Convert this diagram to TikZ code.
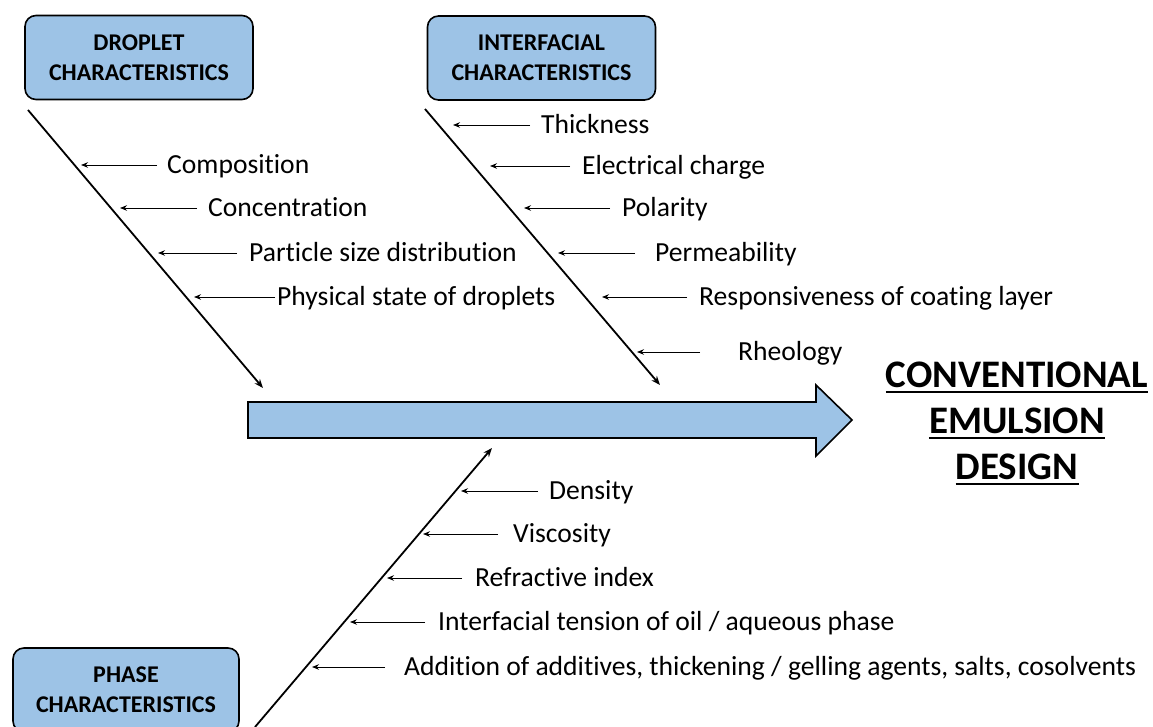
\documentclass[tikz,border=0pt]{standalone}
\usepackage{fontspec}
\setmainfont{Carlito}[Ligatures=NoCommon]
\usetikzlibrary{arrows.meta}
\definecolor{boxblue}{RGB}{157,195,230}
\begin{document}
\begin{tikzpicture}[x=1pt,y=-1pt,
  catbox/.style={draw=black, line width=1.6pt, fill=boxblue, rounded corners=11pt,
    font=\fontsize{24}{30}\selectfont\bfseries, align=center,
    minimum width=228pt, minimum height=84pt, inner sep=0pt},
  rib/.style={line width=1.8pt, -{Stealth[length=9pt,width=7pt]}},
  br/.style={line width=0.9pt, -{Stealth[length=7pt,width=5.5pt]}},
  lab/.style={anchor=west, inner sep=0pt, font=\fontsize{27.6}{30}\selectfont,
    text height=17pt, text depth=0pt},
  ttl/.style={anchor=base, inner sep=0pt, font=\fontsize{39}{44}\selectfont\bfseries},
  ul/.style={line width=2.6pt}
]
\useasboundingbox (0,0) rectangle (1153,727);

% category boxes
\node[catbox] (drop) at (139,57.5) {DROPLET\\CHARACTERISTICS};
\node[catbox] (inter) at (541.5,58) {INTERFACIAL\\CHARACTERISTICS};
\node[catbox, minimum width=226pt] (phase) at (126,690) {PHASE\\CHARACTERISTICS};

% main arrow
\draw[line width=1.6pt, fill=boxblue, line join=miter]
  (248,402) -- (816,402) -- (816,385) -- (852,420) -- (816,456) -- (816,438) -- (248,438) -- cycle;

% ribs
\coordinate (d0) at (28,110);  \coordinate (d1) at (263,388);
\coordinate (i0) at (425,109); \coordinate (i1) at (660,385);
\coordinate (p0) at (255,727); \coordinate (p1) at (492,448);
\draw[rib] (d0) -- (d1);
\draw[rib] (i0) -- (i1);
\draw[rib] (p0) -- (p1);

% droplet branches
\node[lab] (dl1) at (167,165) {Composition};
\node[lab] (dl2) at (208,208) {Concentration};
\node[lab] (dl3) at (249,253) {Particle size distribution};
\node[lab] (dl4) at (277,297) {Physical state of droplets};
\coordinate (dt1) at (81,165);
\coordinate (dt2) at (120,208);
\coordinate (dt3) at (158,253);
\coordinate (dt4) at (194,297);
\draw[br, shorten <=10pt] (dl1.west) -- (dt1);
\draw[br, shorten <=11pt] (dl2.west) -- (dt2);
\draw[br, shorten <=12pt] (dl3.west) -- (dt3);
\draw[br, shorten <=2pt] (dl4.west) -- (dt4);

% interfacial branches
\node[lab] (il1) at (541,125) {Thickness};
\node[lab] (il2) at (582,166) {Electrical charge};
\node[lab] (il3) at (622,208) {Polarity};
\node[lab] (il4) at (655,253) {Permeability};
\node[lab] (il5) at (699,297) {Responsiveness of coating layer};
\node[lab] (il6) at (738,352) {Rheology};
\coordinate (it1) at (453,125);
\coordinate (it2) at (490,166);
\coordinate (it3) at (524,208);
\coordinate (it4) at (558,253);
\coordinate (it5) at (602,297);
\coordinate (it6) at (637,352);
\draw[br, shorten <=11pt] (il1.west) -- (it1);
\draw[br, shorten <=12pt] (il2.west) -- (it2);
\draw[br, shorten <=12pt] (il3.west) -- (it3);
\draw[br, shorten <=20pt] (il4.west) -- (it4);
\draw[br, shorten <=12pt] (il5.west) -- (it5);
\draw[br, shorten <=38pt] (il6.west) -- (it6);

% phase branches
\node[lab] (pl1) at (549,491) {Density};
\node[lab] (pl2) at (513,534) {Viscosity};
\node[lab] (pl3) at (475,578) {Refractive index};
\node[lab] (pl4) at (438,622) {Interfacial tension of oil / aqueous phase};
\node[lab] (pl5) at (404,667) {Addition of additives, thickening / gelling agents, salts, cosolvents};
\coordinate (pt1) at (461,491);
\coordinate (pt2) at (423,534);
\coordinate (pt3) at (387,578);
\coordinate (pt4) at (350,622);
\coordinate (pt5) at (312,667);
\draw[br, shorten <=11pt] (pl1.west) -- (pt1);
\draw[br, shorten <=15pt] (pl2.west) -- (pt2);
\draw[br, shorten <=13pt] (pl3.west) -- (pt3);
\draw[br, shorten <=13pt] (pl4.west) -- (pt4);
\draw[br, shorten <=19pt] (pl5.west) -- (pt5);

% title
\node[ttl] (t1) at (1017,387) {CONVENTIONAL};
\node[ttl] (t2) at (1017,433) {EMULSION};
\node[ttl] (t3) at (1017,479) {DESIGN};
\draw[ul] ([yshift=-5pt]t1.base west) -- ([yshift=-5pt]t1.base east);
\draw[ul] ([yshift=-5pt]t2.base west) -- ([yshift=-5pt]t2.base east);
\draw[ul] ([yshift=-5pt]t3.base west) -- ([yshift=-5pt]t3.base east);
\end{tikzpicture}
\end{document}
